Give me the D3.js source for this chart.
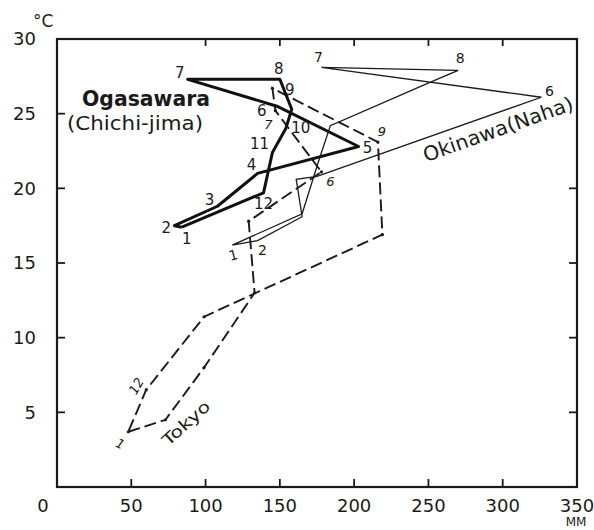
<!DOCTYPE html>
<html>
<head>
<meta charset="utf-8">
<script src="https://cdn.jsdelivr.net/npm/d3@7"></script>
<style>
  body { margin: 0; background: #fff; }
  text { font-family: "DejaVu Sans", sans-serif; fill: #1a1a1a; }
</style>
</head>
<body>
<script>
// monthly precipitation (mm) and mean temperature (°C), Jan..Dec
var months = [1, 2, 3, 4, 5, 6, 7, 8, 9, 10, 11, 12];

var ogasawaraRain = [84, 79, 108, 135, 203, 148, 88, 150, 158, 154, 145, 139];
var ogasawaraTemp = [17.4, 17.5, 18.8, 21.0, 22.8, 25.5, 27.3, 27.3, 25.3, 24.0, 22.4, 19.7];

var okinawaRain = [118, 135, 165, 161, 175, 326, 178, 270, 251, 184, 176, 165];
var okinawaTemp = [16.2, 16.5, 18.1, 20.6, 20.8, 26.1, 28.1, 27.9, 27.1, 24.2, 21.8, 18.3];

var tokyoRain = [48, 73, 99, 133, 129, 178, 147, 145, 216, 219, 99, 60];
var tokyoTemp = [3.7, 4.5, 8.0, 13.0, 17.8, 21.1, 25.2, 26.7, 23.1, 16.9, 11.4, 6.5];

var xTickLabels = [0, 50, 100, 150, 200, 250, 300, 350];
var yTickLabels = [5, 10, 15, 20, 25, 30];

// which months get a number written next to them
var ogasawaraLabelled = [1, 2, 3, 4, 5, 6, 7, 8, 9, 10, 11, 12];
var okinawaLabelled = [1, 2, 6, 7, 8];
var tokyoLabelled = [1, 6, 7, 9, 12];

// label offsets (px) from the point, by month, plus a rotation
var ogaOff = {1:[5,11],2:[-8,2],3:[-8,-7],4:[-6,-9],5:[9,1],6:[-15,4],7:[-8,-7],8:[-1,-11],9:[-2,-20],10:[15,-1],11:[-13,-9],12:[0,11]};
var okiOff = {1:[1,10,-15],2:[5,9],6:[8,-6],7:[-3,-10],8:[2,-12]};
var tokOff = {1:[-8,12,25],6:[9,9],7:[-7,14],9:[4,-11],12:[-10,-4,-60]};

var W = 594, H = 530;
var svg = d3.select("body").append("svg")
    .attr("width", W)
    .attr("height", H);

var x = d3.scaleLinear().domain([0, 350]).range([57, 577]);
var y = d3.scaleLinear().domain([0, 30]).range([487, 39]);

function pts(rain, temp) {
  return months.map(function (m, i) { return { m: m, x: rain[i], y: temp[i] }; });
}

var line = d3.line()
    .x(function (d) { return x(d.x); })
    .y(function (d) { return y(d.y); });

// frame
svg.append("rect")
    .attr("x", x(0)).attr("y", y(30))
    .attr("width", x(350) - x(0)).attr("height", y(0) - y(30))
    .attr("fill", "none").attr("stroke", "#1a1a1a").attr("stroke-width", 2.2);

// ticks pointing inward
var tk = svg.append("g").attr("stroke", "#1a1a1a").attr("stroke-width", 1.8);
xTickLabels.filter(function (v) { return v > 0 && v < 350; }).forEach(function (v) {
  tk.append("line").attr("x1", x(v)).attr("x2", x(v)).attr("y1", y(0)).attr("y2", y(0) - 8);
  if (v >= 100) tk.append("line").attr("x1", x(v)).attr("x2", x(v)).attr("y1", y(30)).attr("y2", y(30) + 7);
});
yTickLabels.filter(function (v) { return v < 30; }).forEach(function (v) {
  tk.append("line").attr("x1", x(0)).attr("x2", x(0) + 8).attr("y1", y(v)).attr("y2", y(v));
  if (v <= 20) tk.append("line").attr("x1", x(350)).attr("x2", x(350) - 8).attr("y1", y(v)).attr("y2", y(v));
});

// tick labels
svg.selectAll("text.ylab").data(yTickLabels).enter().append("text")
    .attr("class", "ylab")
    .attr("x", 36).attr("y", function (d) { return y(d); })
    .attr("dy", "0.36em")
    .attr("text-anchor", "end")
    .style("font-size", "18px")
    .text(function (d) { return d; });

svg.selectAll("text.xlab").data(xTickLabels).enter().append("text")
    .attr("class", "xlab")
    .attr("x", function (d) { return d === 0 ? 43 : x(d); })
    .attr("y", 512)
    .attr("text-anchor", "middle")
    .style("font-size", "18px")
    .text(function (d) { return d; });

svg.append("text").attr("x", 576).attr("y", 526).attr("text-anchor", "middle")
    .style("font-size", "12px").text("MM");
svg.append("text").attr("x", 33).attr("y", 27)
    .style("font-size", "17px").text("°C");

// series
var ogasawara = pts(ogasawaraRain, ogasawaraTemp);
var okinawa = pts(okinawaRain, okinawaTemp);
var tokyo = pts(tokyoRain, tokyoTemp);

function closed(p) { return p.concat([p[0]]); }

svg.append("path")
    .attr("d", line(closed(tokyo)))
    .attr("fill", "none").attr("stroke", "#1a1a1a")
    .attr("stroke-width", 1.9).attr("stroke-dasharray", "12,5");

svg.append("path")
    .attr("d", line(closed(okinawa)))
    .attr("fill", "none").attr("stroke", "#1a1a1a")
    .attr("stroke-width", 1.3);

svg.append("path")
    .attr("d", line(closed(ogasawara)))
    .attr("fill", "none").attr("stroke", "#111")
    .attr("stroke-width", 3).attr("stroke-linejoin", "round");

// small dots on the Tokyo vertices
svg.selectAll("circle.tok").data(tokyo).enter().append("circle")
    .attr("class", "tok")
    .attr("cx", function (d) { return x(d.x); })
    .attr("cy", function (d) { return y(d.y); })
    .attr("r", 1.6).attr("fill", "#1a1a1a");

function monthLabels(data, which, off, size, italic) {
  svg.selectAll(null).data(data.filter(function (d) { return which.indexOf(d.m) >= 0; }))
    .enter().append("text")
    .attr("transform", function (d) {
      var o = off[d.m];
      return "translate(" + (x(d.x) + o[0]) + "," + (y(d.y) + o[1]) + ") rotate(" + (o[2] || 0) + ")";
    })
    .attr("dy", "0.36em")
    .attr("text-anchor", "middle")
    .style("font-size", size + "px")
    .style("font-style", italic ? "italic" : "normal")
    .text(function (d) { return d.m; });
}
monthLabels(ogasawara, ogasawaraLabelled, ogaOff, 15, false);
monthLabels(okinawa, okinawaLabelled, okiOff, 14, false);
monthLabels(tokyo, tokyoLabelled, tokOff, 13, true);

// station names
svg.append("text").attr("x", 146).attr("y", 106).attr("text-anchor", "middle")
    .attr("textLength", 128).attr("lengthAdjust", "spacingAndGlyphs")
    .style("font-size", "21px").style("font-weight", "bold").text("Ogasawara");
svg.append("text").attr("x", 135).attr("y", 130).attr("text-anchor", "middle")
    .attr("textLength", 136).attr("lengthAdjust", "spacingAndGlyphs")
    .style("font-size", "20px").text("(Chichi-jima)");
svg.append("text").attr("transform", "translate(498,129) rotate(-19.5)")
    .attr("text-anchor", "middle").attr("dy", "0.36em")
    .attr("textLength", 158).attr("lengthAdjust", "spacingAndGlyphs")
    .style("font-size", "20px").text("Okinawa(Naha)");
svg.append("text").attr("transform", "translate(186,423) rotate(-42)")
    .attr("text-anchor", "middle").attr("dy", "0.36em")
    .attr("textLength", 58).attr("lengthAdjust", "spacingAndGlyphs")
    .style("font-size", "16px").text("Tokyo");
</script>
</body>
</html>
